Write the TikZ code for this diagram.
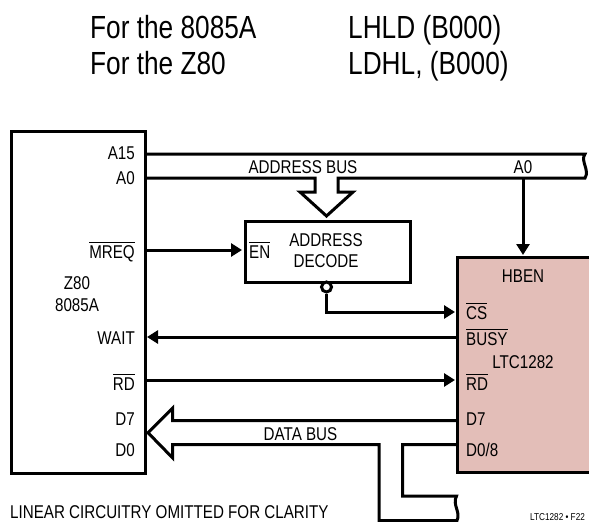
\documentclass[tikz,border=0pt]{standalone}
\usepackage{fontspec}
\usetikzlibrary{arrows.meta}
\setmainfont[FakeStretch=0.82]{Liberation Sans}
\definecolor{chip}{RGB}{227,190,184}
\newcommand{\ovl}[1]{\leavevmode\vbox{\hrule height 0.7pt \kern 2.6pt\hbox{#1}}}
\tikzset{
 x=1pt,y=-1pt,
 wire/.style={line width=3pt,line cap=butt,line join=miter},
 arr/.style={wire,-{Triangle[length=11pt,width=13pt]}},
 lbl/.style={inner sep=0pt,font=\fontsize{18.5}{20}\selectfont},
 big/.style={inner sep=0pt,anchor=base west,font=\fontsize{32}{34}\selectfont},
}
\begin{document}
\begin{tikzpicture}
\useasboundingbox (0,0) rectangle (589,522);
\node[big] (t1) at (90,38.5) {For the 8085A};
\node[big] (t2) at (90,74) {For the Z80};
\node[big] (t3) at (348,38.5) {LHLD (B000)};
\node[big] (t4) at (348,74) {LDHL, (B000)};
\node[draw,wire,minimum width=134pt,minimum height=342pt,anchor=north west,inner sep=0pt] (cpu) at (10,130) {};
\node[draw,wire,minimum width=165.5pt,minimum height=61pt,anchor=north west,inner sep=0pt] (dec) at (243.5,220) {};
\fill[chip] (457,257) rectangle (589,472);
\draw[wire] (589,257) -- (457,257) -- (457,472) -- (589,472);
\draw[wire] (144,154) -- (585,154) .. controls (580,161) and (590,170) .. (585,178) -- (338,178) -- (338,192) -- (353,192) -- (326.5,216) -- (300,192) -- (315,192) -- (315,178) -- (144,178);
\coordinate (a0t) at (523,178);
\draw[arr] (a0t) -- (523,255);
\draw[arr] (144,250) -- (242,250);
\draw[arr] (456,337) -- (147,337);
\draw[arr] (144,380) -- (455,380);
\node[circle,draw,wire,fill=white,minimum size=10pt,inner sep=0pt] (bub) at (326.5,287) {};
\draw[arr] (bub.south) -- (326.5,312) -- (455,312);
\draw[wire] (456,420.7) -- (172.7,420.7) -- (172.7,408) -- (148,432.7) -- (172.7,458) -- (172.7,444.7) -- (379,444.7) -- (379,520.5) -- (457,520.5) .. controls (461,512) and (452,505) .. (456.5,496) -- (402.7,496) -- (402.7,444.7) -- (456,444.7);
\node[lbl,anchor=base east] (p1) at (135,159) {A15};
\node[lbl,anchor=base east] (p2) at (135,184) {A0};
\node[lbl,anchor=base east] (p3) at (135,258) {\ovl{MREQ}};
\node[lbl,anchor=base] (p4) at (77,289) {Z80};
\node[lbl,anchor=base] (p5) at (77,311) {8085A};
\node[lbl,anchor=base east] (p6) at (135,344) {WAIT};
\node[lbl,anchor=base east] (p7) at (135,390) {\ovl{RD}};
\node[lbl,anchor=base east] (p8) at (135,425) {D7};
\node[lbl,anchor=base east] (p9) at (135,456) {D0};
\node[lbl,anchor=base] (b1) at (303,173) {ADDRESS BUS};
\node[lbl,anchor=base] (b2) at (523,173) {A0};
\node[lbl,anchor=base west] (e1) at (249,258) {\ovl{EN}};
\node[lbl,anchor=base] (d1) at (326,246) {ADDRESS};
\node[lbl,anchor=base] (d2) at (326,267) {DECODE};
\node[lbl,anchor=base] (h1) at (523,282) {HBEN};
\node[lbl,anchor=base west] (c1) at (466,319) {\ovl{CS}};
\node[lbl,anchor=base west] (c2) at (466,345) {\ovl{BUSY}};
\node[lbl,anchor=base] (c3) at (523,368) {LTC1282};
\node[lbl,anchor=base west] (c4) at (466,390) {\ovl{RD}};
\node[lbl,anchor=base west] (c5) at (466,425) {D7};
\node[lbl,anchor=base west] (c6) at (466,456) {D0/8};
\node[lbl,anchor=base] (b3) at (300.5,440) {DATA BUS};
\node[lbl,anchor=base west] (n1) at (10,518.5) {LINEAR CIRCUITRY OMITTED FOR CLARITY};
\node[inner sep=0pt,anchor=base west,font=\fontsize{10}{11}\selectfont] (n2) at (530,520) {LTC1282 • F22};
\end{tikzpicture}
\end{document}
